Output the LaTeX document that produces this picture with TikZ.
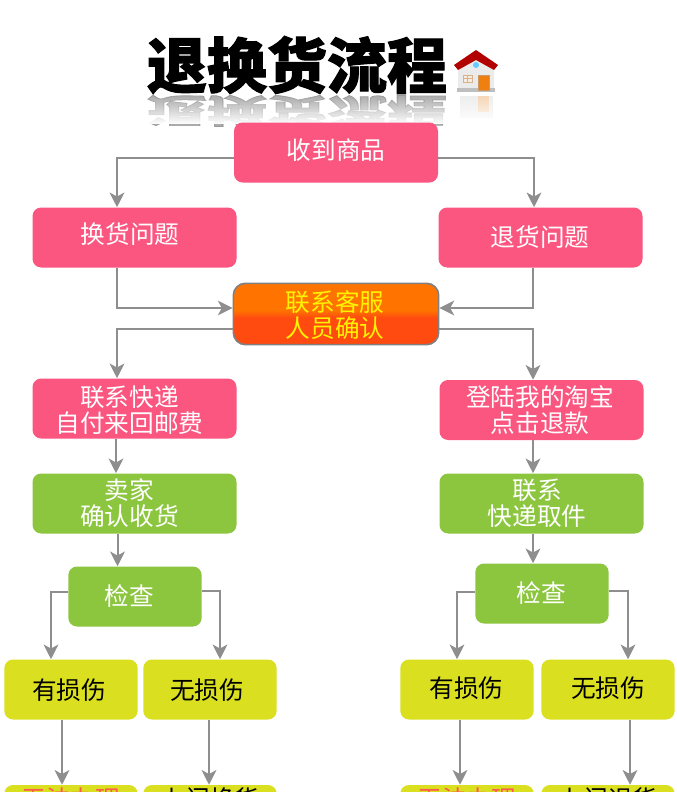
\documentclass[tikz,border=0pt]{standalone}
\usepackage{fontspec}
\setmainfont{Noto Sans CJK SC}
\newfontfamily\titlefont[BoldFeatures={FakeBold=1.8}]{Noto Sans CJK SC}
\usetikzlibrary{arrows.meta,calc,fadings}
\definecolor{pinkb}{HTML}{FB5680}
\definecolor{greenb}{HTML}{8CC63F}
\definecolor{yellowb}{HTML}{DAE01F}
\definecolor{linegray}{HTML}{8E8E8E}
\definecolor{oTop}{HTML}{FF7400}
\definecolor{oBot}{HTML}{FF4A10}
\definecolor{redtxt}{HTML}{FF5A50}
\pgfdeclareverticalshading{obox}{100bp}{color(0bp)=(oBot);color(25bp)=(oBot);color(47bp)=(oBot);color(53bp)=(oTop);color(75bp)=(oTop);color(100bp)=(oTop)}
\tikzset{
 x=0.75pt,y=-0.75pt,
 bx/.style={rounded corners=6.5pt,minimum height=45pt,inner sep=0pt},
 pinkbox/.style={bx,fill=pinkb,minimum width=153pt},
 greenbox/.style={bx,fill=greenb,minimum width=153pt},
 greensm/.style={bx,fill=greenb,minimum width=100pt},
 ybox/.style={bx,fill=yellowb,minimum width=100pt},
 lbl/.style={inner sep=0pt,align=center,font=\fontsize{18.5pt}{19.5pt}\selectfont},
 wlbl/.style={lbl,text=white},
 klbl/.style={lbl,text=black},
 rlbl/.style={lbl,text=redtxt},
 conn/.style={draw=linegray,line width=1.5pt,-{Stealth[length=11pt,width=11pt,inset=3pt]}},
}
\begin{document}
\begin{tikzpicture}
\useasboundingbox (0,0) rectangle (676,792);
\clip (0,0) rectangle (676,792);
\fill[white] (0,0) rectangle (676,792);
% title reflection
\node[font=\fontsize{45pt}{45pt}\selectfont\titlefont\bfseries,text=gray,opacity=0.65,yscale=-0.55,inner sep=0pt] (titleshadow) at (297,111) {退换货流程};
% house reflection
\fill[gray!25,opacity=.5] (460,96) rectangle (493,118);
\fill[orange!50,opacity=.5] (478,96) rectangle (489,112);
\fill[white,path fading=north] (140,96) rectangle (510,124);
% title
\node[font=\fontsize{45pt}{45pt}\selectfont\titlefont\bfseries,text=black,inner sep=0pt] (title) at (297,65) {退换货流程};
% house icon
\fill[black!8] (458,62) -- (476,55) -- (494,62) -- (494,90) -- (458,90) -- cycle;
\fill[black!25] (457,88) rectangle (495,92);
\fill[orange!75!brown,draw=brown!80] (478,75) rectangle (489,90);
\fill[brown!15,draw=brown!60] (463,75) rectangle (472,82);
\draw[brown!60] (467.5,75) -- (467.5,82) (463,78.5) -- (472,78.5);
\fill[red!70!black] (454,65) -- (476,50) -- (498,65) -- (494,70) -- (476,60) -- (458,70) -- cycle;
\fill[blue!35!cyan!60] (476,65) circle[radius=3];
% boxes
\node[pinkbox] (a) at (336,152.5) {};
\node[pinkbox] (b1) at (134.5,237.5) {};
\node[pinkbox] (b2) at (540.5,237.5) {};
\node[rounded corners=9pt,draw=gray,line width=1.2pt,minimum width=154pt,minimum height=46pt,inner sep=0pt,shading=obox] (c) at (336,314) {};
\node[pinkbox] (d1) at (134.5,408.5) {};
\node[pinkbox] (d2) at (541.5,410) {};
\node[greenbox] (e1) at (134.5,503.5) {};
\node[greenbox] (e2) at (541.5,503.5) {};
\node[greensm] (f1) at (135,596.5) {};
\node[greensm] (f2) at (542,593.5) {};
\node[ybox] (g1) at (71,689.5) {};
\node[ybox] (g2) at (210,689.5) {};
\node[ybox] (g3) at (467,689.5) {};
\node[ybox] (g4) at (608,689.5) {};
\node[ybox] (h1) at (71,815) {};
\node[ybox] (h2) at (210,815) {};
\node[ybox] (h3) at (467,815) {};
\node[ybox] (h4) at (608,815) {};
% labels
\node[wlbl] (ta) at (336,150.5) {收到商品};
\node[wlbl] (tb1) at (130,234.5) {换货问题};
\node[wlbl] (tb2) at (540,237) {退货问题};
\node[lbl,text=yellow] (tc) at (335,315) {联系客服\\人员确认};
\node[wlbl] (td1) at (129.5,410) {联系快递\\自付来回邮费};
\node[wlbl] (td2) at (540,410) {登陆我的淘宝\\点击退款};
\node[wlbl] (te1) at (129.5,503) {卖家\\确认收货};
\node[wlbl] (te2) at (537,503) {联系\\快递取件};
\node[wlbl] (tf1) at (129,596) {检查};
\node[wlbl] (tf2) at (541,593) {检查};
\node[klbl] (tg1) at (69,690.5) {有损伤};
\node[klbl] (tg2) at (207,690.5) {无损伤};
\node[klbl] (tg3) at (466.5,688.5) {有损伤};
\node[klbl] (tg4) at (608,688) {无损伤};
\node[rlbl] (th1) at (71,799.5) {无法办理};
\node[klbl] (th2) at (210,799.5) {上门换货};
\node[rlbl] (th3) at (467,799.5) {无法办理};
\node[klbl] (th4) at (608,799.5) {上门退货};
% connectors
\draw[conn] (a.west |- 0,158) -- (117,158) -- (117,0 |- b1.north);
\draw[conn] (a.east |- 0,158) -- (534,158) -- (534,0 |- b2.north);
\draw[conn] (117,0 |- b1.south) -- (117,308) -- (c.west |- 0,308);
\draw[conn] (533,0 |- b2.south) -- (533,308) -- (c.east |- 0,308);
\draw[conn] (c.west |- 0,329) -- (117,329) -- (117,0 |- d1.north);
\draw[conn] (c.east |- 0,329) -- (533,329) -- (533,0 |- d2.north);
\draw[conn] (116,0 |- d1.south) -- (116,0 |- e1.north);
\draw[conn] (533,0 |- d2.south) -- (533,0 |- e2.north);
\draw[conn] (117.5,0 |- e1.south) -- (117.5,0 |- f1.north);
\draw[conn] (533,0 |- e2.south) -- (533,0 |- f2.north);
\draw[conn] (f1.west |- 0,592) -- (51,592) -- (51,0 |- g1.north);
\draw[conn] (f1.east |- 0,591) -- (220,591) -- (220,0 |- g2.north);
\draw[conn] (f2.west |- 0,592) -- (457,592) -- (457,0 |- g3.north);
\draw[conn] (f2.east |- 0,591) -- (628,591) -- (628,0 |- g4.north);
\draw[conn] (62,0 |- g1.south) -- (62,0 |- h1.north);
\draw[conn] (209,0 |- g2.south) -- (209,0 |- h2.north);
\draw[conn] (460,0 |- g3.south) -- (460,0 |- h3.north);
\draw[conn] (630,0 |- g4.south) -- (630,0 |- h4.north);
\end{tikzpicture}
\end{document}
